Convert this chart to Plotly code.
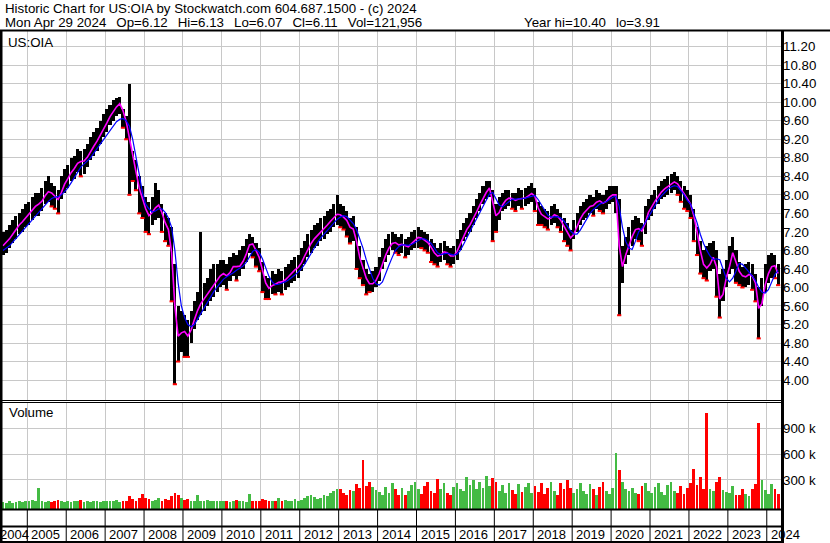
import plotly.graph_objects as go

W, H = 830, 543

# ---------------- data (monthly, May 2004 .. Apr 2024) ----------------
start_year, start_month = 2004, 5

close = [
    6.95, 7.00, 7.10, 7.20, 7.30, 7.40, 7.45, 7.55,                          # 2004
    7.60, 7.70, 7.80, 7.85, 7.90, 8.05, 8.10, 8.00, 7.95, 7.85, 8.15, 8.30,  # 2005
    8.40, 8.55, 8.60, 8.75, 8.70, 8.75, 8.85, 9.00, 9.10, 9.20, 9.35, 9.50,  # 2006
    9.60, 9.75, 9.85, 9.95, 10.00, 9.70, 9.50, 9.00, 8.60, 8.40, 8.00, 7.85, # 2007
    7.60, 7.50, 7.70, 7.75, 7.80, 7.50, 7.30, 7.20, 6.40, 5.00, 4.90, 5.10,  # 2008
    5.00, 4.90, 5.20, 5.40, 5.60, 5.70, 5.80, 5.90, 6.00, 6.10, 6.20, 6.30,  # 2009
    6.30, 6.20, 6.40, 6.50, 6.40, 6.50, 6.60, 6.80, 7.00, 6.90, 6.70, 6.60,  # 2010
    6.20, 6.00, 5.95, 6.10, 6.05, 6.15, 6.10, 6.20, 6.25, 6.35, 6.40, 6.45,  # 2011
    6.60, 6.75, 6.90, 7.00, 7.10, 7.15, 7.25, 7.30, 7.40, 7.45, 7.55, 7.60,  # 2012
    7.55, 7.50, 7.40, 7.20, 7.30, 6.80, 6.50, 6.30, 6.10, 6.05, 6.10, 6.20,  # 2013
    6.40, 6.60, 6.80, 6.90, 7.00, 6.95, 6.90, 6.95, 6.85, 6.90, 7.00, 7.05,  # 2014
    7.10, 7.05, 7.00, 6.95, 6.80, 6.70, 6.65, 6.75, 6.80, 6.70, 6.65, 6.70,  # 2015
    6.85, 7.00, 7.20, 7.30, 7.40, 7.55, 7.70, 7.85, 8.00, 8.10, 8.20, 7.60,  # 2016
    7.50, 7.70, 7.85, 7.90, 7.95, 7.90, 7.85, 7.95, 7.90, 7.95, 8.00, 8.05,  # 2017
    7.90, 7.60, 7.55, 7.50, 7.45, 7.55, 7.60, 7.50, 7.40, 7.25, 7.15, 7.00,  # 2018
    7.25, 7.40, 7.55, 7.65, 7.70, 7.80, 7.75, 7.90, 7.85, 7.80, 7.90, 8.00,  # 2019
    8.00, 8.05, 6.30, 6.60, 6.80, 7.00, 7.20, 7.30, 7.25, 7.20, 7.50, 7.70,  # 2020
    7.80, 7.90, 8.00, 8.10, 8.15, 8.20, 8.25, 8.30, 8.20, 8.10, 7.95, 7.90,  # 2021
    7.70, 7.40, 7.00, 6.60, 6.40, 6.35, 6.60, 6.70, 6.20, 5.70, 6.10, 6.30,  # 2022
    6.60, 6.70, 6.40, 6.30, 6.20, 6.25, 6.30, 6.20, 6.00, 5.50, 5.90, 6.20,  # 2023
    6.40, 6.50, 6.45, 6.11,                                                  # 2024
]

high = [
    7.20, 7.25, 7.35, 7.45, 7.55, 7.60, 7.70, 7.80,
    7.85, 7.95, 8.05, 8.05, 8.15, 8.30, 8.40, 8.25, 8.20, 8.10, 8.40, 8.55,
    8.65, 8.80, 8.85, 9.00, 8.95, 9.00, 9.10, 9.25, 9.35, 9.45, 9.60, 9.75,
    9.85, 9.95, 10.05, 10.10, 10.12, 9.85, 9.70, 10.40, 8.95, 8.75, 8.40, 8.20,
    7.95, 7.85, 7.95, 8.25, 8.10, 7.80, 7.60, 7.50, 7.30, 6.50, 5.60, 5.50,
    5.40, 5.30, 5.50, 5.70, 5.90, 7.20, 6.10, 6.20, 6.40, 6.50, 6.50, 6.60,
    6.60, 6.50, 6.65, 6.75, 6.70, 6.80, 6.90, 7.05, 7.15, 7.10, 6.95, 6.85,
    6.55, 6.25, 6.20, 6.35, 6.30, 6.40, 6.35, 6.45, 6.50, 6.60, 6.65, 6.70,
    6.85, 7.00, 7.15, 7.25, 7.35, 7.40, 7.50, 7.55, 7.65, 7.70, 7.80, 8.00,
    7.80, 7.75, 7.65, 7.50, 7.55, 7.30, 6.90, 6.60, 6.40, 6.30, 6.35, 6.45,
    6.65, 6.85, 7.05, 7.15, 7.20, 7.15, 7.10, 7.15, 7.05, 7.10, 7.20, 7.25,
    7.30, 7.25, 7.20, 7.15, 7.05, 6.95, 6.85, 6.95, 7.00, 6.90, 6.85, 6.90,
    7.05, 7.25, 7.40, 7.50, 7.60, 7.75, 7.90, 8.05, 8.20, 8.30, 8.30, 8.10,
    7.80, 7.95, 8.05, 8.10, 8.10, 8.05, 8.05, 8.15, 8.10, 8.15, 8.20, 8.25,
    8.15, 7.85, 7.75, 7.70, 7.65, 7.75, 7.80, 7.70, 7.60, 7.50, 7.40, 7.25,
    7.45, 7.60, 7.75, 7.85, 7.90, 8.00, 7.95, 8.10, 8.05, 8.00, 8.10, 8.20,
    8.20, 8.20, 7.90, 6.90, 7.10, 7.30, 7.45, 7.55, 7.50, 7.40, 7.75, 7.90,
    8.00, 8.10, 8.20, 8.30, 8.35, 8.40, 8.45, 8.50, 8.40, 8.30, 8.20, 8.10,
    8.00, 7.70, 7.30, 7.00, 6.80, 6.90, 6.95, 7.00, 6.80, 6.30, 6.40, 6.60,
    6.90, 7.10, 6.80, 6.55, 6.45, 6.50, 6.55, 6.50, 6.30, 6.00, 6.20, 6.50,
    6.70, 6.75, 6.70, 6.50,
]

low = [
    6.70, 6.75, 6.85, 6.95, 7.05, 7.15, 7.20, 7.30,
    7.35, 7.45, 7.55, 7.55, 7.65, 7.80, 7.85, 7.75, 7.70, 7.60, 7.90, 8.05,
    8.15, 8.30, 8.35, 8.50, 8.40, 8.45, 8.60, 8.75, 8.85, 8.95, 9.10, 9.25,
    9.35, 9.50, 9.60, 9.70, 9.75, 9.45, 9.20, 8.00, 8.30, 8.10, 7.60, 7.50,
    7.20, 7.15, 7.35, 7.45, 7.50, 7.20, 7.00, 6.90, 5.70, 3.91, 4.40, 4.60,
    4.50, 4.50, 4.80, 5.10, 5.30, 5.40, 5.50, 5.60, 5.70, 5.80, 5.90, 6.00,
    6.05, 5.95, 6.15, 6.25, 6.15, 6.25, 6.40, 6.55, 6.75, 6.65, 6.45, 6.35,
    5.90, 5.75, 5.75, 5.85, 5.85, 5.90, 5.85, 5.95, 6.00, 6.10, 6.15, 6.20,
    6.35, 6.50, 6.65, 6.75, 6.85, 6.90, 7.00, 7.05, 7.15, 7.20, 7.30, 7.35,
    7.30, 7.25, 7.10, 6.95, 7.00, 6.40, 6.20, 6.05, 5.85, 5.90, 5.90, 6.00,
    6.15, 6.40, 6.55, 6.70, 6.80, 6.75, 6.70, 6.75, 6.65, 6.70, 6.80, 6.85,
    6.85, 6.85, 6.80, 6.75, 6.55, 6.50, 6.45, 6.55, 6.60, 6.50, 6.45, 6.50,
    6.60, 6.80, 7.00, 7.10, 7.20, 7.35, 7.50, 7.65, 7.80, 7.90, 7.95, 7.00,
    7.20, 7.45, 7.65, 7.70, 7.75, 7.70, 7.65, 7.75, 7.70, 7.75, 7.80, 7.85,
    7.65, 7.35, 7.35, 7.30, 7.25, 7.35, 7.40, 7.30, 7.20, 7.00, 6.90, 6.80,
    7.05, 7.20, 7.35, 7.45, 7.50, 7.60, 7.55, 7.70, 7.65, 7.60, 7.70, 7.80,
    7.85, 7.60, 5.40, 6.10, 6.50, 6.70, 6.90, 7.05, 7.00, 6.90, 7.15, 7.45,
    7.55, 7.70, 7.80, 7.90, 7.95, 8.00, 8.05, 8.10, 8.00, 7.85, 7.70, 7.65,
    7.50, 7.00, 6.70, 6.30, 6.20, 6.15, 6.35, 6.40, 5.80, 5.35, 5.70, 6.00,
    6.30, 6.40, 6.10, 6.05, 6.00, 6.00, 6.05, 5.95, 5.70, 4.90, 5.60, 5.90,
    6.10, 6.20, 6.20, 6.05,
]

ma_fast = [
    6.90, 6.97, 7.05, 7.15, 7.25, 7.35, 7.42, 7.50,
    7.57, 7.66, 7.75, 7.80, 7.86, 7.98, 8.07, 8.04, 7.97, 7.90, 8.05, 8.23,
    8.35, 8.48, 8.57, 8.68, 8.72, 8.73, 8.81, 8.94, 9.05, 9.16, 9.28, 9.43,
    9.55, 9.69, 9.80, 9.90, 9.97, 9.82, 9.58, 9.20, 8.80, 8.50, 8.15, 7.92,
    7.70, 7.55, 7.62, 7.72, 7.78, 7.62, 7.40, 7.25, 6.75, 5.60, 4.95, 5.02,
    5.05, 4.95, 5.08, 5.30, 5.50, 5.65, 5.75, 5.85, 5.95, 6.05, 6.15, 6.25,
    6.30, 6.25, 6.32, 6.45, 6.45, 6.46, 6.56, 6.72, 6.92, 6.94, 6.80, 6.65,
    6.38, 6.10, 5.98, 6.04, 6.07, 6.11, 6.12, 6.16, 6.23, 6.31, 6.38, 6.43,
    6.53, 6.68, 6.83, 6.95, 7.05, 7.12, 7.20, 7.28, 7.35, 7.43, 7.50, 7.58,
    7.57, 7.52, 7.45, 7.30, 7.26, 7.00, 6.65, 6.40, 6.20, 6.08, 6.08, 6.15,
    6.30, 6.50, 6.70, 6.85, 6.95, 6.97, 6.92, 6.93, 6.90, 6.88, 6.95, 7.02,
    7.08, 7.07, 7.02, 6.97, 6.87, 6.75, 6.68, 6.70, 6.77, 6.75, 6.68, 6.68,
    6.78, 6.93, 7.10, 7.25, 7.35, 7.48, 7.63, 7.78, 7.93, 8.05, 8.15, 7.85,
    7.55, 7.62, 7.78, 7.88, 7.93, 7.92, 7.88, 7.91, 7.92, 7.93, 7.98, 8.03,
    7.97, 7.72, 7.58, 7.52, 7.48, 7.50, 7.57, 7.54, 7.45, 7.32, 7.20, 7.07,
    7.15, 7.33, 7.48, 7.60, 7.68, 7.75, 7.77, 7.84, 7.87, 7.82, 7.86, 7.95,
    8.00, 8.00, 6.90, 6.45, 6.70, 6.90, 7.10, 7.25, 7.27, 7.22, 7.38, 7.62,
    7.75, 7.86, 7.96, 8.06, 8.13, 8.18, 8.23, 8.28, 8.24, 8.14, 8.02, 7.92,
    7.80, 7.55, 7.20, 6.80, 6.50, 6.42, 6.50, 6.65, 6.45, 5.75, 5.85, 6.20,
    6.45, 6.75, 6.55, 6.35, 6.25, 6.23, 6.28, 6.25, 6.10, 5.55, 5.65, 6.05,
    6.30, 6.45, 6.47, 6.30,
]

ma_slow = [
    6.80, 6.85, 6.90, 6.98, 7.06, 7.14, 7.22, 7.30,                          # 2004
    7.38, 7.46, 7.55, 7.62, 7.70, 7.78, 7.86, 7.92, 7.95, 7.96, 8.00, 8.07,  # 2005
    8.15, 8.26, 8.38, 8.50, 8.60, 8.67, 8.73, 8.80, 8.90, 9.00, 9.10, 9.20,  # 2006
    9.30, 9.40, 9.50, 9.58, 9.63, 9.65, 9.60, 9.48, 9.20, 8.85, 8.45, 8.05,  # 2007
    7.80, 7.70, 7.63, 7.65, 7.70, 7.70, 7.62, 7.50, 7.30, 6.80, 6.10, 5.60,  # 2008
    5.35, 5.20, 5.15, 5.20, 5.32, 5.45, 5.58, 5.70, 5.81, 5.91, 6.01, 6.10,  # 2009
    6.18, 6.23, 6.27, 6.32, 6.37, 6.41, 6.46, 6.54, 6.66, 6.78, 6.82, 6.76,  # 2010
    6.62, 6.42, 6.24, 6.12, 6.06, 6.07, 6.09, 6.12, 6.16, 6.21, 6.27, 6.33,  # 2011
    6.40, 6.50, 6.62, 6.75, 6.87, 6.97, 7.07, 7.15, 7.23, 7.31, 7.39, 7.47,  # 2012
    7.52, 7.55, 7.53, 7.46, 7.38, 7.25, 7.05, 6.85, 6.60, 6.38, 6.20, 6.08,  # 2013
    6.05, 6.12, 6.28, 6.48, 6.65, 6.80, 6.88, 6.92, 6.92, 6.91, 6.93, 6.97,  # 2014
    7.02, 7.05, 7.05, 7.01, 6.95, 6.85, 6.75, 6.71, 6.72, 6.74, 6.72, 6.70,  # 2015
    6.72, 6.80, 6.93, 7.08, 7.22, 7.35, 7.48, 7.62, 7.76, 7.90, 8.02, 8.05,  # 2016
    7.92, 7.78, 7.74, 7.80, 7.87, 7.91, 7.91, 7.91, 7.92, 7.93, 7.95, 7.98,  # 2017
    7.99, 7.90, 7.78, 7.65, 7.56, 7.52, 7.53, 7.53, 7.50, 7.43, 7.33, 7.22,  # 2018
    7.15, 7.15, 7.24, 7.37, 7.50, 7.60, 7.68, 7.75, 7.80, 7.83, 7.85, 7.90,  # 2019
    7.95, 7.97, 7.75, 7.30, 7.00, 6.85, 6.82, 7.00, 7.20, 7.28, 7.40, 7.55,  # 2020
    7.65, 7.77, 7.88, 7.98, 8.06, 8.12, 8.17, 8.20, 8.18, 8.10, 8.00, 7.88,  # 2021
    7.80, 7.60, 7.40, 7.15, 6.95, 6.80, 6.68, 6.60, 6.62, 6.60, 6.40, 6.20,  # 2022
    6.12, 6.20, 6.35, 6.52, 6.50, 6.42, 6.35, 6.25, 6.15, 6.00, 5.90, 5.88,  # 2023
    5.95, 6.10, 6.28, 6.37,                                                  # 2024
]

volume_k = [
    40, 35, 50, 30, 45, 60, 40, 55,                                  # 2004
    60, 70, 55, 205, 50, 45, 60, 40, 55, 65, 50, 45,                 # 2005
    50, 40, 60, 55, 70, 45, 50, 40, 60, 55, 45, 50,                  # 2006
    60, 55, 50, 70, 45, 60, 55, 110, 80, 60, 90, 135,                # 2007
    90, 80, 60, 70, 90, 60, 80, 70, 110, 150, 120, 90,               # 2008
    70, 80, 60, 50, 125, 60, 50, 70, 60, 55, 50, 60,                 # 2009
    50, 60, 45, 55, 70, 60, 50, 45, 135, 60, 55, 50,                 # 2010
    80, 70, 60, 50, 60, 90, 55, 70, 60, 50, 80, 60,                  # 2011
    70, 90, 110, 120, 100, 80, 90, 130, 110, 150, 170, 190,          # 2012
    200, 150, 130, 180, 170, 250, 210, 530, 230, 280, 220, 180,      # 2013
    160, 120, 220, 150, 260, 190, 130, 210, 120, 170, 240, 280,      # 2014
    190, 140, 230, 280, 170, 150, 310, 200, 260, 150, 130, 220,      # 2015
    260, 200, 170, 330, 240, 300, 190, 280, 210, 350, 230, 320,      # 2016
    280, 170, 240, 150, 260, 180, 140, 250, 160, 220, 270, 150,      # 2017
    230, 160, 270, 140, 210, 280, 170, 130, 260, 190, 300, 210,      # 2018
    150, 200, 260, 170, 140, 250, 190, 130, 220, 280, 170, 140,      # 2019
    210, 620, 420, 280, 200, 170, 210, 150, 140, 230, 260, 170,      # 2020
    150, 220, 270, 160, 130, 240, 280, 170, 150, 230, 140, 210,      # 2021
    260, 430, 240, 330, 200, 1080, 190, 170, 280, 330, 180, 160,     # 2022
    150, 230, 130, 120, 190, 140, 110, 190, 250, 960, 300, 180,      # 2023
    140, 250, 190, 140,                                              # 2024
]

years = list(range(2004, 2025))
price_ticks = [4.00, 4.40, 4.80, 5.20, 5.60, 6.00, 6.40, 6.80, 7.20, 7.60,
               8.00, 8.40, 8.80, 9.20, 9.60, 10.00, 10.40, 10.80, 11.20]
volume_ticks = [300, 600, 900]
volume_tick_text = ["300 k", "600 k", "900 k"]

header1 = "Historic Chart for US:OIA by Stockwatch.com 604.687.1500 - (c) 2024"
header2_items = ["Mon Apr 29 2024", "Op=6.12", "Hi=6.13", "Lo=6.07",
                 "Cl=6.11", "Vol=121,956"]
header2_year = ["Year hi=10.40", "lo=3.91"]

# ---------------- helpers ----------------
t = [start_year + (start_month - 1 + i + 0.5) / 12 for i in range(len(close))]
px = lambda x: x / W
py = lambda y: 1 - y / H

FONT = "Liberation Sans, Arial, sans-serif"
GRID = "#c8c8c8"
GAP = "\u00a0\u00a0\u2009"

PX_PER_YEAR = 38.92
x_left = 2004.2985
x_right = 2005 + (782 - 27.3) / PX_PER_YEAR

down = [i for i in range(1, len(close)) if close[i] < close[i - 1]]
vol_colors = ["#ff0000" if (i > 0 and close[i] < close[i - 1]) else "#44bb44"
              for i in range(len(close))]
VOL_BASE = -38

fig = go.Figure()

fig.add_trace(go.Bar(
    x=t, y=[h - l for h, l in zip(high, low)], base=low,
    width=1 / 12 * 0.95, marker=dict(color="black", line=dict(width=0)),
    xaxis="x", yaxis="y", showlegend=False))
fig.add_trace(go.Scatter(
    x=[t[i] for i in down], y=[low[i] for i in down], mode="markers",
    marker=dict(symbol="line-ew", size=3, line=dict(color="#ff0000", width=2)),
    xaxis="x", yaxis="y", showlegend=False))
fig.add_trace(go.Scatter(x=t, y=ma_fast, mode="lines",
                         line=dict(color="#ff00ff", width=1.6),
                         xaxis="x", yaxis="y", showlegend=False))
fig.add_trace(go.Scatter(x=t, y=ma_slow, mode="lines",
                         line=dict(color="#0000ff", width=1.2),
                         xaxis="x", yaxis="y", showlegend=False))
fig.add_trace(go.Bar(
    x=t, y=[v - VOL_BASE for v in volume_k], base=VOL_BASE,
    width=1 / 12 * 0.85, marker=dict(color=vol_colors, line=dict(width=0)),
    xaxis="x2", yaxis="y2", showlegend=False))

axis_common = dict(showline=False, zeroline=False, ticks="", fixedrange=True)

fig.update_layout(
    width=W, height=H, margin=dict(l=0, r=0, t=0, b=0),
    paper_bgcolor="white", plot_bgcolor="white", bargap=0,
    font=dict(family=FONT, size=13, color="black"),
    xaxis=dict(domain=[0, px(782)], range=[x_left, x_right],
               tickvals=years, showticklabels=False, showgrid=True,
               gridcolor=GRID, gridwidth=1, anchor="y", **axis_common),
    xaxis2=dict(domain=[0, px(782)], range=[x_left, x_right], matches="x",
                tickvals=years, showticklabels=False, showgrid=True,
                gridcolor=GRID, gridwidth=1, anchor="y2", **axis_common),
    yaxis=dict(domain=[py(400), py(31)],
               range=[11.20 - (400 - 46.7) / 46.3, 11.20 + (46.7 - 31) / 46.3],
               side="right", tickvals=price_ticks,
               ticktext=[f"{v:.2f}" for v in price_ticks],
               showgrid=True, gridcolor=GRID, gridwidth=1,
               tickfont=dict(size=13.3, color="black"), anchor="x",
               **axis_common),
    yaxis2=dict(domain=[py(509), py(403)],
                range=[VOL_BASE, (505.75 - 403) / 25.75 * 300],
                side="right", tickvals=volume_ticks, ticktext=volume_tick_text,
                showgrid=True, gridcolor=GRID, gridwidth=1,
                tickfont=dict(size=13.3, color="black"), anchor="x2",
                **axis_common),
)

shapes = []
def hline(y, x0, x1, w):
    shapes.append(dict(type="line", xref="paper", yref="paper",
                       x0=px(x0), x1=px(x1), y0=py(y), y1=py(y),
                       line=dict(color="black", width=w)))
def vline(x, y0, y1, w):
    shapes.append(dict(type="line", xref="paper", yref="paper",
                       x0=px(x), x1=px(x), y0=py(y0), y1=py(y1),
                       line=dict(color="black", width=w)))

hline(30.5, 0, 830, 2)
hline(400.5, 0, 782, 1)
hline(402.5, 0, 782, 1)
hline(509.5, 0, 782, 2)
hline(526.5, 0, 782, 2)
hline(542, 0, 782, 2)
vline(1, 30, 543, 3)
vline(782.5, 30, 543, 3)
for yr in years[1:]:
    shapes.append(dict(type="line", xref="x", yref="paper", x0=yr, x1=yr,
                       y0=py(509), y1=py(543),
                       line=dict(color="black", width=1)))
fig.update_layout(shapes=shapes)

ann = []
def text(x, y, s, size=13.3, anchor="left"):
    ann.append(dict(xref="paper", yref="paper", x=px(x), y=py(y), text=s,
                    showarrow=False, xanchor=anchor, yanchor="middle",
                    font=dict(family=FONT, size=size, color="black")))

text(3, 8.5, header1)
text(3, 22.5, GAP.join(header2_items))
text(662, 22.5, GAP.join(header2_year), anchor="right")
text(6, 42, "US:OIA")
text(7, 413, "Volume")
for yr in years:
    if yr < x_left:
        ann.append(dict(xref="x", yref="paper", x=x_left, y=py(534.5),
                        text=str(yr), showarrow=False, xanchor="left",
                        yanchor="middle", xshift=-2,
                        font=dict(family=FONT, size=13, color="black")))
    else:
        ann.append(dict(xref="x", yref="paper", x=yr, y=py(534.5),
                        text=str(yr), showarrow=False, xanchor="left",
                        yanchor="middle", xshift=2,
                        font=dict(family=FONT, size=13, color="black")))
fig.update_layout(annotations=ann)

fig.write_html(
    "out.html",
    config={"displayModeBar": False, "staticPlot": True},
    post_script="document.body.style.margin='0';"
                "document.body.style.overflow='hidden';")
